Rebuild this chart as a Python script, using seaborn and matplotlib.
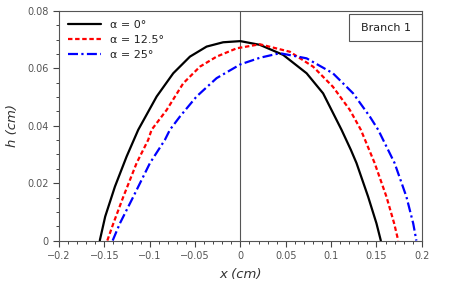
import pandas as pd
import matplotlib
matplotlib.use("Agg")
import matplotlib.pyplot as plt
import seaborn as sns
from matplotlib.patches import Rectangle
from matplotlib.ticker import MultipleLocator

# Curves (x in cm, h in cm)
x_0 = [-0.155, -0.149, -0.1383, -0.1254, -0.1126, -0.0923, -0.074, -0.0556, -0.0372, -0.019,
       0.0, 0.0215, 0.0472, 0.073, 0.0912, 0.1115, 0.1218, 0.128, 0.1408, 0.150, 0.1548]
h_0 = [0.0, 0.0084, 0.0188, 0.0293, 0.0386, 0.0502, 0.0583, 0.0641, 0.0676, 0.0691,
       0.0695, 0.0682, 0.0647, 0.0583, 0.0513, 0.0386, 0.0316, 0.027, 0.0153, 0.006, 0.0]

x_125 = [-0.1467, -0.140, -0.129, -0.1144, -0.1016, -0.0979, -0.0813, -0.063, -0.0446, -0.0262,
         -0.004, 0.0215, 0.0545, 0.0802, 0.102, 0.1207, 0.1328, 0.148, 0.161, 0.1695, 0.174]
h_125 = [0.0, 0.006, 0.0153, 0.027, 0.0351, 0.0386, 0.0455, 0.0548, 0.0606, 0.0641,
         0.067, 0.0684, 0.0658, 0.0606, 0.0536, 0.0455, 0.0386, 0.027, 0.0153, 0.006, 0.0]

x_25 = [-0.1408, -0.1328, -0.118, -0.0997, -0.0832, -0.0777, -0.0667, -0.0483, -0.0262, 0.0,
        0.0215, 0.0435, 0.073, 0.102, 0.1243, 0.1427, 0.1519, 0.170, 0.183, 0.1905, 0.194]
h_25 = [0.0, 0.006, 0.0153, 0.027, 0.0351, 0.0386, 0.0432, 0.0502, 0.0566, 0.0614,
        0.0637, 0.0653, 0.0635, 0.0583, 0.0513, 0.0432, 0.0386, 0.027, 0.0153, 0.006, 0.0]

labels = ["α = 0°", "α = 12.5°", "α = 25°"]

frames = []
for lab, xs, hs in zip(labels, [x_0, x_125, x_25], [h_0, h_125, h_25]):
    frames.append(pd.DataFrame({"x": xs, "h": hs, "case": lab}))
df = pd.concat(frames, ignore_index=True)

sns.set_theme(style="ticks")
plt.rcParams["font.family"] = ["DejaVu Sans"]

fig = plt.figure(figsize=(4.57, 2.97), dpi=100)
ax = fig.add_axes([0.129, 0.19, 0.794, 0.773])

ax.axvline(0, color="#555555", lw=0.8, zorder=1)

palette = {labels[0]: "black", labels[1]: "#ff0000", labels[2]: "#0000ff"}
dashes = {labels[0]: "", labels[1]: (2, 1.2), labels[2]: (4.5, 1.5, 1, 1.5)}
sns.lineplot(data=df, x="x", y="h", hue="case", style="case", palette=palette,
             dashes=dashes, sort=False, lw=1.6, ax=ax, zorder=3)

ax.set_xlim(-0.2, 0.2)
ax.set_ylim(0, 0.08)
ax.xaxis.set_major_locator(MultipleLocator(0.05))
ax.xaxis.set_minor_locator(MultipleLocator(0.01))
ax.yaxis.set_major_locator(MultipleLocator(0.02))
ax.yaxis.set_minor_locator(MultipleLocator(0.005))
ax.set_xticks([-0.2, -0.15, -0.1, -0.05, 0, 0.05, 0.1, 0.15, 0.2])
ax.set_xticklabels(["−0.2", "−0.15", "−0.1", "−0.05", "0", "0.05", "0.1", "0.15", "0.2"])
ax.set_yticks([0, 0.02, 0.04, 0.06, 0.08])
ax.set_yticklabels(["0", "0.02", "0.04", "0.06", "0.08"])

ax.tick_params(which="major", direction="out", length=4.5, width=0.8, color="#444444",
               labelsize=7, labelcolor="#555555", pad=3)
ax.tick_params(which="minor", direction="out", length=2.5, width=0.7, color="#444444")
for sp in ax.spines.values():
    sp.set_color("#555555")
    sp.set_linewidth(0.8)

ax.set_xlabel("x (cm)", fontsize=9.5, style="italic", color="#333333", labelpad=5)
ax.set_ylabel("h (cm)", fontsize=9.5, style="italic", color="#333333", labelpad=6)

leg = ax.legend(loc="upper left", frameon=False, fontsize=8, handlelength=3.0,
                borderaxespad=0.4, labelspacing=0.45, handletextpad=0.8)
for t in leg.get_texts():
    t.set_color("#222222")

ax.add_patch(Rectangle((0.80, 0.869), 0.2, 0.118, transform=ax.transAxes, fill=False,
                       edgecolor="#555555", lw=0.8, zorder=4, clip_on=False))
ax.text(0.90, 0.928, "Branch 1", transform=ax.transAxes, ha="center", va="center",
        fontsize=8, color="#222222")

fig.savefig("out.png", dpi=100)
